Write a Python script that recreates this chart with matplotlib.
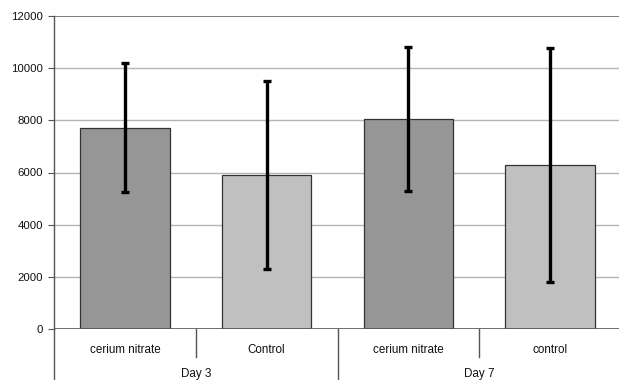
import matplotlib
matplotlib.use("Agg")
import matplotlib.pyplot as plt
import matplotlib.transforms as mtransforms

categories = ["cerium nitrate", "Control", "cerium nitrate", "control"]
groups = ["Day 3", "Day 7"]
values = [7720, 5900, 8060, 6300]
err_low = [5240, 2290, 5280, 1800]
err_high = [10210, 9520, 10820, 10770]
colors = ["#969696", "#c0c0c0", "#969696", "#c0c0c0"]
yticks = [0, 2000, 4000, 6000, 8000, 10000, 12000]

plt.rcParams['font.family'] = ['Liberation Sans', 'DejaVu Sans']

fig = plt.figure(figsize=(6.19, 3.80), dpi=100)
ax = fig.add_axes([54/619, 1 - 329/380, (621 - 54)/619, (329 - 16)/380])

x = list(range(len(categories)))
yerr = [[v - lo for v, lo in zip(values, err_low)],
        [hi - v for v, hi in zip(values, err_high)]]
ax.bar(x, values, width=0.63, color=colors, edgecolor="#333333", linewidth=0.9, zorder=2)
ax.errorbar(x, values, yerr=yerr, fmt="none", ecolor="black", elinewidth=2.4,
            capsize=3, capthick=2.4, zorder=3)

ax.set_xlim(-0.5, len(categories) - 0.5)
ax.set_ylim(0, 12000)
ax.set_yticks(yticks)
ax.set_yticklabels([str(t) for t in yticks], fontsize=8.2, color="#111111")
for t in yticks[1:-1]:
    ax.axhline(t, color="#b5b5b5", linewidth=1.0, zorder=1)
ax.axhline(12000, color="#666666", linewidth=1.2, zorder=1)

for s in ["top", "right", "bottom"]:
    ax.spines[s].set_visible(False)
ax.spines["left"].set_color("#555555")
ax.spines["left"].set_linewidth(1.0)
ax.axhline(0, color="#555555", linewidth=1.2, zorder=4)
ax.tick_params(axis="y", length=4, color="#555555", pad=4)

ax.set_xticks(x)
ax.set_xticklabels(categories, fontsize=8.4, color="#111111")
ax.tick_params(axis="x", length=0, pad=11)

trans = mtransforms.blended_transform_factory(ax.transData, ax.transAxes)
short = -(357 - 329) / 313
full = -(382 - 329) / 313
# separators between categories
for b in [0.5, 2.5]:
    ax.plot([b, b], [0, short], transform=trans, color="#555555", linewidth=1.0, clip_on=False)
for b in [-0.5, 1.5]:
    ax.plot([b, b], [0, full], transform=trans, color="#555555", linewidth=1.0, clip_on=False)

group_y = -(374 - 329) / 313
for gi, g in enumerate(groups):
    ax.text(gi * 2 + 0.5, group_y, g, transform=trans, ha="center", va="center",
            fontsize=8.4, color="#111111")

fig.savefig("out.png", dpi=100)
